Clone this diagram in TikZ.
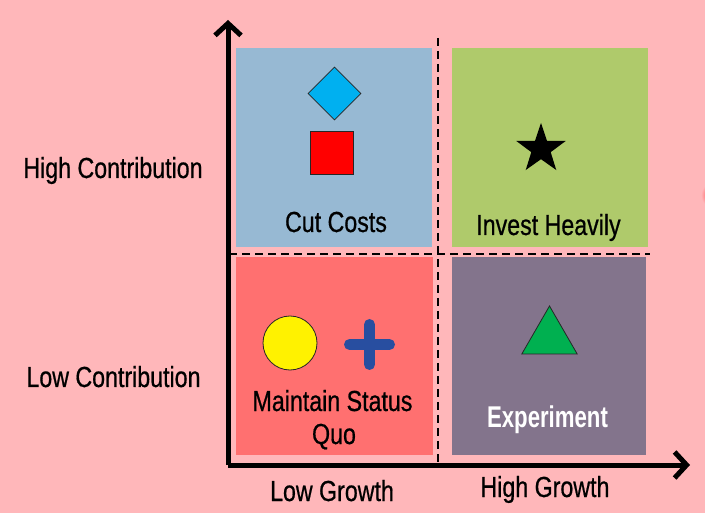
\documentclass[tikz,border=0pt]{standalone}
\usepackage{fontspec}
\setmainfont{Liberation Sans}[FakeStretch=0.8, FakeBold=0.6]
\newfontfamily\narrowbold{Liberation Sans Bold}[FakeStretch=0.74]
\usetikzlibrary{arrows.meta,shapes.geometric}

\definecolor{bgpink}{RGB}{255,183,186}
\definecolor{quadblue}{RGB}{151,185,211}
\definecolor{quadgreen}{RGB}{175,202,107}
\definecolor{quadred}{RGB}{255,112,112}
\definecolor{quadpurple}{RGB}{131,116,140}
\definecolor{diamondcyan}{RGB}{0,176,240}
\definecolor{plusblue}{RGB}{40,78,160}
\definecolor{trigreen}{RGB}{0,176,80}

\begin{document}
\begin{tikzpicture}[x=1pt,y=-1pt,
  quad/.style={draw=none, minimum width=196pt, inner sep=0pt},
  label/.style={font=\fontsize{29}{32}\selectfont, anchor=base, inner sep=0pt},
  axis/.style={line width=5pt, -{Straight Barb[length=12pt,width=26pt]}},
  divider/.style={line width=2.2pt, dash pattern=on 8pt off 5pt},
  outlined/.style={draw=black!85, line width=0.8pt, inner sep=0pt}]

% canvas
\useasboundingbox (0,0) rectangle (705,513);
\fill[bgpink] (0,0) rectangle (705,513);
\shade[inner color=red!85!bgpink, outer color=bgpink] (714,195) circle (13);

% quadrants
\node[quad, fill=quadblue, minimum height=199pt]   (cut)    at (334,147.5) {};
\node[quad, fill=quadgreen, minimum height=199pt]  (invest) at (550,147.5) {};
\node[quad, fill=quadred, minimum width=197pt, minimum height=198pt] (keep) at (334.5,356) {};
\node[quad, fill=quadpurple, minimum width=194pt, minimum height=198pt] (exper) at (549,356) {};

% dashed dividers
\coordinate (vtop) at (438,38);
\coordinate (vbot) at (438,463);
\coordinate (hleft) at (229,254);
\coordinate (hright) at (650,254);
\draw[divider] (vtop) -- (vbot);
\draw[divider] (hleft) -- (hright);

% axes
\coordinate (origin) at (228,465);
\coordinate (ytip) at (228,20);
\coordinate (xtip) at (690,465);
\draw[axis] (origin) -- (ytip);
\draw[axis] (origin.center) -- (xtip);

% symbols
\node[outlined, diamond, fill=diamondcyan, minimum width=53pt, minimum height=53pt] (dia) at (334.5,93.5) {};
\node[outlined, rectangle, fill=red, minimum width=43pt, minimum height=43pt] (sq) at (331.5,152.5) {};
\node[star, star points=5, star point ratio=2.55, fill=black, inner sep=0pt, minimum size=52pt] (st) at (541,149) {};
\node[outlined, circle, fill=yellow, minimum size=54pt] (circ) at (290,343) {};
\coordinate (plusc) at (369.5,344.5);
\draw[plusblue, line width=11pt, line cap=round]
  ([xshift=-20pt]plusc) -- ([xshift=20pt]plusc)
  ([yshift=-20pt]plusc) -- ([yshift=20pt]plusc);
\node[outlined, regular polygon, regular polygon sides=3, fill=trigreen, minimum size=64pt] (tri) at (549.5,338) {};

% quadrant captions
\node[label] (tcut) at (336,232) {Cut Costs};
\node[label] (tinv) at (548.5,235) {Invest Heavily};
\node[label] (tkeep1) at (332.5,411) {Maintain Status};
\node[label] (tkeep2) at (334,444) {Quo};
\node[label, text=white, font=\fontsize{30}{32}\narrowbold] (texp) at (547.5,428) {Experiment};

% axis captions
\node[label] (hc) at (113,178) {High Contribution};
\node[label] (lc) at (113.5,387) {Low Contribution};
\node[label] (lg) at (332,501) {Low Growth};
\node[label] (hg) at (545,497) {High Growth};
\end{tikzpicture}
\end{document}
